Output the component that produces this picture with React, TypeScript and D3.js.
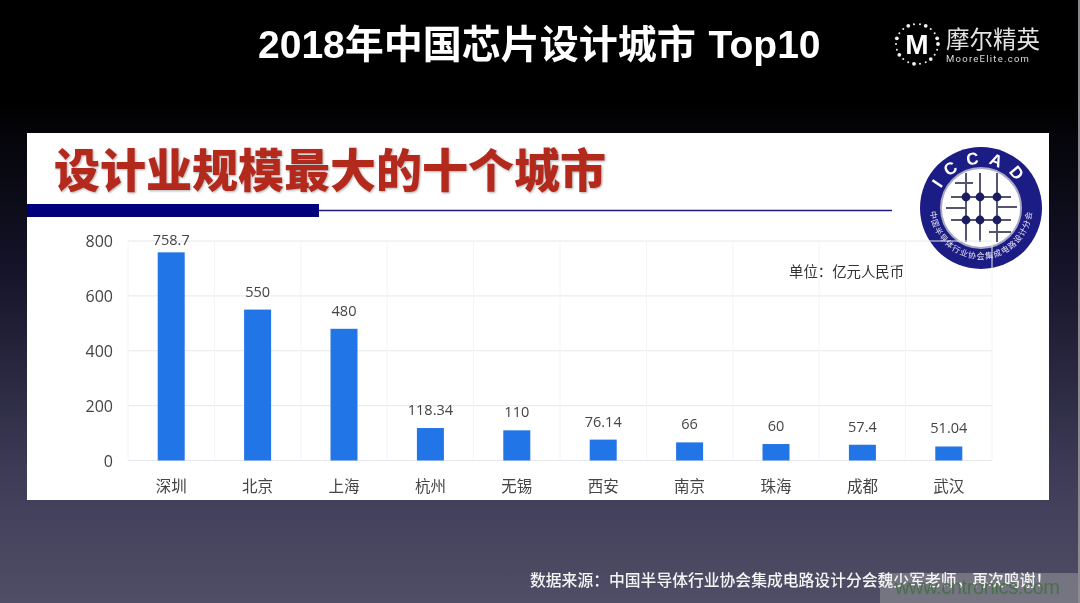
import React from 'react';
import * as d3 from 'd3';

const cities = ['深圳', '北京', '上海', '杭州', '无锡', '西安', '南京', '珠海', '成都', '武汉'];
const scaleValues = [758.7, 550, 480, 118.34, 110, 76.14, 66, 60, 57.4, 51.04];
const valueLabels = ['758.7', '550', '480', '118.34', '110', '76.14', '66', '60', '57.4', '51.04'];
const yTicks = [0, 200, 400, 600, 800];

const width = 1080;
const height = 603;
const cjk = '"Noto Sans CJK SC", "Noto Sans", sans-serif';
const latinFirst = '"Liberation Sans", "Noto Sans CJK SC", sans-serif';

const x = d3.scaleBand<string>().domain(cities).range([128, 992]).paddingInner(0).paddingOuter(0);
const y = d3.scaleLinear().domain([0, 800]).range([460.5, 241]);
const barWidth = 27;

// ring of dots around the M in the top right logo
const logoDots = d3.range(22).map(i => (i / 22) * 2 * Math.PI);

const Logo = () => (
  <g>
    {logoDots.map((a, i) => (
      <circle
        key={i}
        cx={917 + Math.cos(a) * 21}
        cy={44 + Math.sin(a) * 20}
        r={i % 3 === 0 ? 1.9 : 1}
        fill="#f2f2f2"
      />
    ))}
    <text x={917} y={54} textAnchor="middle" fontFamily="Liberation Sans, sans-serif" fontWeight={700} fontSize={28} fill="#fff">M</text>
    <text x={946} y={48} fontFamily={cjk} fontSize={23.5} fill="#e4e4e4">摩尔精英</text>
    <text x={946} y={62} fontFamily="Roboto, sans-serif" fontSize={9.5} fill="#dcdcdc" letterSpacing={1.25}>MooreElite.com</text>
  </g>
);

const IccadBadge = () => {
  const cx = 981;
  const cy = 208;
  const gridX = [-15, -1, 16];
  const gridY = [-11, 12];
  const lineColor = '#55556f';
  return (
    <g>
      <circle cx={cx} cy={cy} r={61} fill="#1c1a85" />
      <circle cx={cx} cy={cy} r={40} fill="#fff" stroke="#a9a9c4" strokeWidth={2} />
      <defs>
        <path id="badgeTop" d={`M ${cx - 44} ${cy} A 44 44 0 0 1 ${cx + 44} ${cy}`} />
        <path id="badgeBottom" d={`M ${cx - 51} ${cy} A 51 51 0 0 0 ${cx + 51} ${cy}`} />
      </defs>
      <text fontFamily="Liberation Sans, sans-serif" fontWeight={700} fontSize={17} fill="#fff" letterSpacing={9}>
        <textPath href="#badgeTop" startOffset="50%" textAnchor="middle">ICCAD</textPath>
      </text>
      <text fontFamily={cjk} fontSize={8} fill="#e8e8f4" letterSpacing={1}>
        <textPath href="#badgeBottom" startOffset="50%" textAnchor="middle">中国半导体行业协会集成电路设计分会</textPath>
      </text>
      {gridX.map(d => (
        <line key={d} x1={cx + d} x2={cx + d} y1={cy - 35} y2={cy + 34} stroke={lineColor} strokeWidth={2} />
      ))}
      {gridY.map(d => (
        <line key={d} x1={cx - 30} x2={cx + 30} y1={cy + d} y2={cy + d} stroke={lineColor} strokeWidth={2} />
      ))}
      <line x1={cx - 35} x2={cx - 14} y1={cy} y2={cy} stroke={lineColor} strokeWidth={2} />
      <line x1={cx + 16} x2={cx + 36} y1={cy - 1} y2={cy - 1} stroke={lineColor} strokeWidth={2} />
      <line x1={cx - 26} x2={cx - 8} y1={cy - 25} y2={cy - 25} stroke={lineColor} strokeWidth={2} />
      <line x1={cx + 8} x2={cx + 30} y1={cy + 24} y2={cy + 24} stroke={lineColor} strokeWidth={2} />
      {gridX.flatMap(a => gridY.map(b => (
        <circle key={`${a}${b}`} cx={cx + a} cy={cy + b} r={4.4} fill="#1c1a60" />
      )))}
    </g>
  );
};

const App = () => {
  return (
    <svg
      width={width}
      height={height}
      viewBox={`0 0 ${width} ${height}`}
      style={{ position: 'absolute', left: 0, top: 0, display: 'block' }}
    >
      <defs>
        <linearGradient id="bg" x1="0" y1="0" x2="0" y2="1">
          <stop offset="0" stopColor="#000" />
          <stop offset="0.16" stopColor="#000" />
          <stop offset="0.45" stopColor="#15142a" />
          <stop offset="0.8" stopColor="#3f3d58" />
          <stop offset="1" stopColor="#504e66" />
        </linearGradient>
        {/* the reference is a soft jpeg */}
        <filter id="soft" x="0" y="0" width="100%" height="100%">
          <feGaussianBlur stdDeviation="0.45" />
        </filter>
        <filter id="titleShadow" x="-5%" y="-5%" width="110%" height="120%">
          <feDropShadow dx="1" dy="1" stdDeviation="0.8" floodColor="#777" floodOpacity="0.6" />
        </filter>
      </defs>
      <rect width={width} height={height} fill="url(#bg)" />

      <g filter="url(#soft)">
        <text x={258} y={58} fontFamily={latinFirst} fontWeight={700} fontSize={39} wordSpacing={2} fill="#fff">
          2018年中国芯片设计城市 Top10
        </text>
        <Logo />

        {/* white slide panel */}
        <rect x={27} y={133} width={1022} height={367} fill="#fff" />
        <text x={54} y={187} fontFamily={cjk} fontWeight={900} fontSize={46} fill="#b32a1d" filter="url(#titleShadow)">
          设计业规模最大的十个城市
        </text>
        <rect x={27} y={204} width={292} height={13} fill="#00007f" />
        <line x1={319} x2={892} y1={210.5} y2={210.5} stroke="#1c1c80" strokeWidth={1.6} />

        <IccadBadge />

        {/* grid, drawn over the badge like the reference */}
        {yTicks.map(t => (
          <line key={t} x1={128} x2={992} y1={y(t)} y2={y(t)} stroke="#e6e8ee" strokeWidth={1} />
        ))}
        {cities.map(c => (
          <line key={c} x1={x(c)} x2={x(c)} y1={y(800)} y2={y(0)} stroke="#f3f4f7" strokeWidth={1} />
        ))}
        <line x1={992} x2={992} y1={y(800)} y2={y(0)} stroke="#f3f4f7" strokeWidth={1} />

        {/* axes */}
        {yTicks.map(t => (
          <text key={t} x={113} y={y(t) + 6} textAnchor="end" fontFamily="'Open Sans', sans-serif" fontSize={16} fill="#444">
            {t}
          </text>
        ))}
        {cities.map(c => (
          <text key={c} x={x(c)! + x.bandwidth() / 2} y={492} textAnchor="middle" fontFamily={cjk} fontSize={15.5} fill="#444">
            {c}
          </text>
        ))}

        {/* bars */}
        {cities.map((c, i) => (
          <rect
            key={c}
            x={x(c)! + x.bandwidth() / 2 - barWidth / 2}
            y={y(scaleValues[i])}
            width={barWidth}
            height={y(0) - y(scaleValues[i])}
            fill="#2474e6"
          />
        ))}
        {cities.map((c, i) => (
          <text
            key={c}
            x={x(c)! + x.bandwidth() / 2}
            y={Math.max(y(scaleValues[i]) - 13, 245)}
            textAnchor="middle"
            fontFamily="'Open Sans', sans-serif"
            fontSize={14.5}
            fill="#444"
          >
            {valueLabels[i]}
          </text>
        ))}

        <text x={789} y={277} fontFamily={cjk} fontSize={14.4} fill="#333">单位：亿元人民币</text>

        {/* watermark */}
        <rect x={880} y={573} width={200} height={30} fill="#8f8f94" fillOpacity={0.6} />

        <text x={530} y={586} fontFamily={cjk} fontWeight={500} fontSize={15.8} fill="#f4f4f4">
          数据来源：中国半导体行业协会集成电路设计分会魏少军老师，再次鸣谢！
        </text>
        <text x={895} y={594} fontFamily="Liberation Sans, sans-serif" fontSize={20} fill="#4a6f4c" textLength={165}>
          www.cntronics.com
        </text>
      </g>

      <rect x={1078} y={0} width={2} height={height} fill="#8a8a90" />
    </svg>
  );
};

export default App;
